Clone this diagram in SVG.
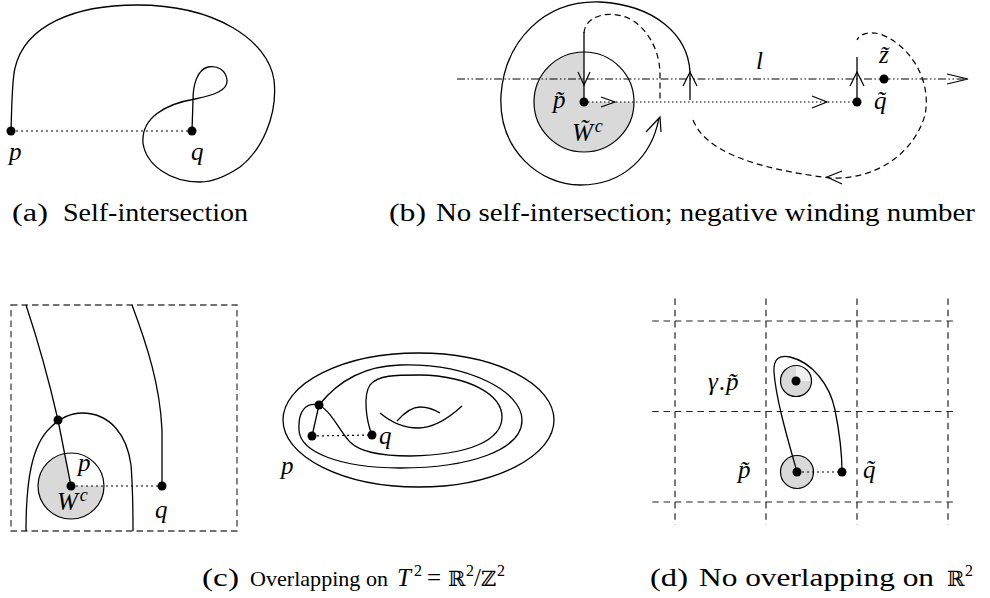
<svg xmlns="http://www.w3.org/2000/svg" width="990" height="598" viewBox="0 0 990 598">
<style>
.ln{fill:none;stroke:#000;stroke-width:1.3}
.ah{fill:none;stroke:#000;stroke-width:1.2}
.dsh{fill:none;stroke:#000;stroke-width:1.2;stroke-dasharray:6 4}
.dot{fill:#000}
.dotted{fill:none;stroke:#000;stroke-width:1.2;stroke-dasharray:2 3}
.dd{fill:none;stroke:#000;stroke-width:1.1;stroke-dasharray:8 2.5 1.5 2.5 1.5 2.5}
.grid{fill:none;stroke:#222;stroke-width:1.2;stroke-dasharray:6.5 4.8125}
.rect{fill:none;stroke:#444;stroke-width:1.3;stroke-dasharray:6.5 4}
.gray{fill:#d9d9d9;stroke:none}
.circ{fill:none;stroke:#000;stroke-width:1.2}
.lbl{font-family:"Liberation Serif","DejaVu Serif",serif;font-style:italic;font-size:25px;fill:#000}
.cap{font-family:"Liberation Serif","DejaVu Serif",serif;font-size:25px;fill:#000}
.bb{font-family:"DejaVu Serif","Liberation Serif",serif;font-size:21px}
.sup{font-size:16px}
</style>

<!-- Panel (a) -->
<g id="panel-a">
  <path class="ln" d="M11,131 C12,100 12,80 15,68 C25,25 75,5 137,5 C215,5 268,40 274,80 C278,115 262,150 240,167 C225,177 212,182 200,182 C170,182 146,165 143,143 C141,118 165,104 195,99 C215,95 228,90 227,80 C226,70 217,65 208,67 C197,70 193,85 193,100 L192,131"/>
  <line class="dotted" x1="11" y1="131" x2="192" y2="131"/>
  <g id="a-p"><circle class="dot" cx="11" cy="131" r="4.5"/><text class="lbl" x="9" y="160">p</text></g>
  <g id="a-q"><circle class="dot" cx="192" cy="131" r="4.5"/><text class="lbl" x="191" y="160">q</text></g>
  <text class="cap" y="221"><tspan x="12" textLength="36" lengthAdjust="spacingAndGlyphs">(a)</tspan><tspan x="63" textLength="185" lengthAdjust="spacingAndGlyphs">Self-intersection</tspan></text>
</g>

<!-- Panel (b) -->
<g id="panel-b">
  <g id="b-Wc">
    <circle class="gray" cx="584" cy="102" r="50"/>
    <path d="M584,102 L634,102 A50,50 0 0 0 584,52 Z" fill="#fff"/>
    <circle class="circ" cx="584" cy="102" r="50"/>
  </g>
  <g id="b-connectors">
    <line class="dd" x1="457" y1="79" x2="966" y2="79"/>
    <polyline class="ah" points="947,74 968,79 947,84"/>
    <line class="dotted" x1="584" y1="102" x2="857" y2="102" style="stroke-dasharray:1.5 2.5"/>
    <polyline class="ah" points="601,97 615,102 601,107"/>
    <polyline class="ah" points="812,96 827,102 812,108"/>
    <line class="ln" x1="584" y1="32" x2="584" y2="102"/>
    <polyline class="ah" points="578,72 584,85 590,72"/>
    <path class="dsh" d="M584,33 C585,14 615,8 635,22 C652,35 660,55 660,75 L660,101"/>
    <path class="ln" d="M690,100 L690,72 C688,35 655,5 600,2 C545,0 505,40 501,95 C498,150 540,185 580,185 C625,185 652,155 659,118"/>
    <polyline class="ah" points="683,86 690,72 697,86"/>
    <polyline class="ah" points="646,132 660,117 661,132"/>
    <path class="dsh" d="M693,120 C705,150 750,168 830,178 C880,180 915,150 925,115 C932,80 910,45 880,34 C868,31 860,34 857,40"/>
    <polyline class="ah" points="842,171 827,177 842,184"/>
    <line class="ln" x1="857" y1="57" x2="857" y2="102"/>
    <polyline class="ah" points="850,86 857,72 864,86"/>
  </g>
  <g id="b-p"><circle class="dot" cx="584" cy="102" r="4.5"/><text class="lbl" x="553" y="108">p&#x303;</text></g>
  <text class="lbl" x="572" y="141">W&#x303;<tspan font-size="18" dx="2" dy="-9">c</tspan></text>
  <g id="b-q"><circle class="dot" cx="857" cy="102" r="4.5"/><text class="lbl" x="874" y="109">q&#x303;</text></g>
  <g id="b-z"><circle class="dot" cx="884" cy="79" r="4.5"/><text class="lbl" x="879" y="63">z&#x303;</text></g>
  <text class="lbl" x="756" y="69">l</text>
  <text class="cap" y="221"><tspan x="389" textLength="37" lengthAdjust="spacingAndGlyphs">(b)</tspan><tspan x="436" textLength="539" lengthAdjust="spacingAndGlyphs">No self-intersection; negative winding number</tspan></text>
</g>

<!-- Panel (c) -->
<g id="panel-c">
  <rect class="rect" x="11" y="305" width="226" height="226"/>
  <g id="c-Wc">
    <circle class="gray" cx="71" cy="486" r="33"/>
    <path d="M71,486 L104,486 A33,33 0 0 0 64.6,453.6 Z" fill="#fff"/>
    <circle class="circ" cx="71" cy="486" r="33"/>
  </g>
  <g id="c-connectors">
    <path class="ln" d="M26,305 C36,335 50,385 58,420 L71,486"/>
    <path class="ln" d="M132,305 C147,345 160,385 162,430 L162,486"/>
    <path class="ln" d="M26,531 C26,480 32,445 50,428 C62,416 72,413 82,413 C110,413 127,435 131,465 C133,490 133,510 133,531"/>
    <line class="dotted" x1="71" y1="486" x2="162" y2="486"/>
  </g>
  <g id="c-x"><circle class="dot" cx="58" cy="420" r="4.5"/></g>
  <g id="c-p"><circle class="dot" cx="71" cy="486" r="4.5"/><text class="lbl" x="78" y="471">p</text></g>
  <text class="lbl" x="57" y="510">W<tspan font-size="18" dx="2" dy="-9">c</tspan></text>
  <g id="c-q"><circle class="dot" cx="162" cy="486" r="4.5"/><text class="lbl" x="155" y="518">q</text></g>
</g>

<!-- Torus -->
<g id="torus">
  <ellipse class="ln" cx="418.5" cy="420" rx="135.5" ry="67"/>
  <path class="ln" d="M319,405 C335,385 360,366 400,365 C470,363 522,392 522,420 C522,450 470,468 400,468 C340,468 300,452 299,430 C298,412 305,402 319,405"/>
  <path class="ln" d="M372,435 C366,420 363,395 370,385 C378,375 395,375 420,375 C470,376 502,395 502,417 C502,440 470,455 410,456 C380,456 360,452 350,442 C340,432 332,412 319,405"/>
  <path class="ln" d="M380,413 C392,423 405,428 418,428 C435,428 450,417 462,406"/>
  <path class="ln" d="M397,421 C405,412 412,407 420,407 C428,407 435,410 440,413"/>
  <line class="ln" x1="319" y1="405" x2="312" y2="436"/>
  <line class="dotted" x1="312" y1="436" x2="372" y2="435"/>
  <g id="t-x"><circle class="dot" cx="319" cy="405" r="4.5"/></g>
  <g id="t-p"><circle class="dot" cx="312" cy="436" r="4.5"/><text class="lbl" x="281" y="474">p</text></g>
  <g id="t-q"><circle class="dot" cx="372" cy="435" r="4.5"/><text class="lbl" x="379" y="444">q</text></g>
</g>
<text class="cap" y="586"><tspan x="202" textLength="37" lengthAdjust="spacingAndGlyphs">(c)</tspan><tspan x="250" font-size="22" textLength="138" lengthAdjust="spacingAndGlyphs">Overlapping on</tspan><tspan x="397" font-style="italic">T</tspan><tspan class="sup" x="414" dy="-10">2</tspan><tspan x="427" dy="10">=</tspan><tspan class="bb" x="448">ℝ</tspan><tspan class="sup" x="466" dy="-10">2</tspan><tspan x="474" dy="10">/</tspan><tspan class="bb" x="481">ℤ</tspan><tspan class="sup" x="497" dy="-10">2</tspan></text>

<!-- Panel (d) -->
<g id="panel-d">
  <g id="d-grid">
    <line class="grid" x1="652.25" y1="321" x2="957" y2="321"/>
    <line class="grid" x1="652.25" y1="411.5" x2="957" y2="411.5"/>
    <line class="grid" x1="652.25" y1="502" x2="957" y2="502"/>
    <line class="grid" x1="675" y1="298.4" x2="675" y2="525"/>
    <line class="grid" x1="766" y1="298.4" x2="766" y2="525"/>
    <line class="grid" x1="857" y1="298.4" x2="857" y2="525"/>
    <line class="grid" x1="948" y1="298.4" x2="948" y2="525"/>
  </g>
  <g id="d-gp">
    <circle class="gray" cx="796" cy="381" r="15.5"/>
    <path d="M796,381 L811.5,381 A15.5,15.5 0 0 0 796,365.5 Z" fill="#f0f0f0"/>
    <circle class="circ" cx="796" cy="381" r="15.5"/>
    <circle class="dot" cx="796" cy="381" r="4.5"/>
    <text class="lbl" x="708" y="390">γ<tspan font-style="normal" dx="1">.</tspan><tspan dx="1">p&#x303;</tspan></text>
  </g>
  <g id="d-p">
    <circle class="gray" cx="797" cy="472" r="16.5"/>
    <circle class="circ" cx="797" cy="472" r="16.5"/>
    <text class="lbl" x="738" y="478">p&#x303;</text>
  </g>
  <g id="d-connectors">
    <path class="ln" d="M797,472 C788,440 776,400 774,372 C773,358 780,355 790,357 C812,362 830,385 835,410 C840,435 842,460 842,472"/>
    <line class="dotted" x1="797" y1="472" x2="842" y2="472"/>
  </g>
  <circle class="dot" cx="797" cy="472" r="4.5"/>
  <g id="d-q"><circle class="dot" cx="842" cy="472" r="4.5"/><text class="lbl" x="863" y="478">q&#x303;</text></g>
</g>
<text class="cap" y="586"><tspan x="650" textLength="38" lengthAdjust="spacingAndGlyphs">(d)</tspan><tspan x="699" textLength="235" lengthAdjust="spacingAndGlyphs">No overlapping on</tspan><tspan class="bb" x="947">ℝ</tspan><tspan class="sup" x="965" dy="-10">2</tspan></text>
</svg>
